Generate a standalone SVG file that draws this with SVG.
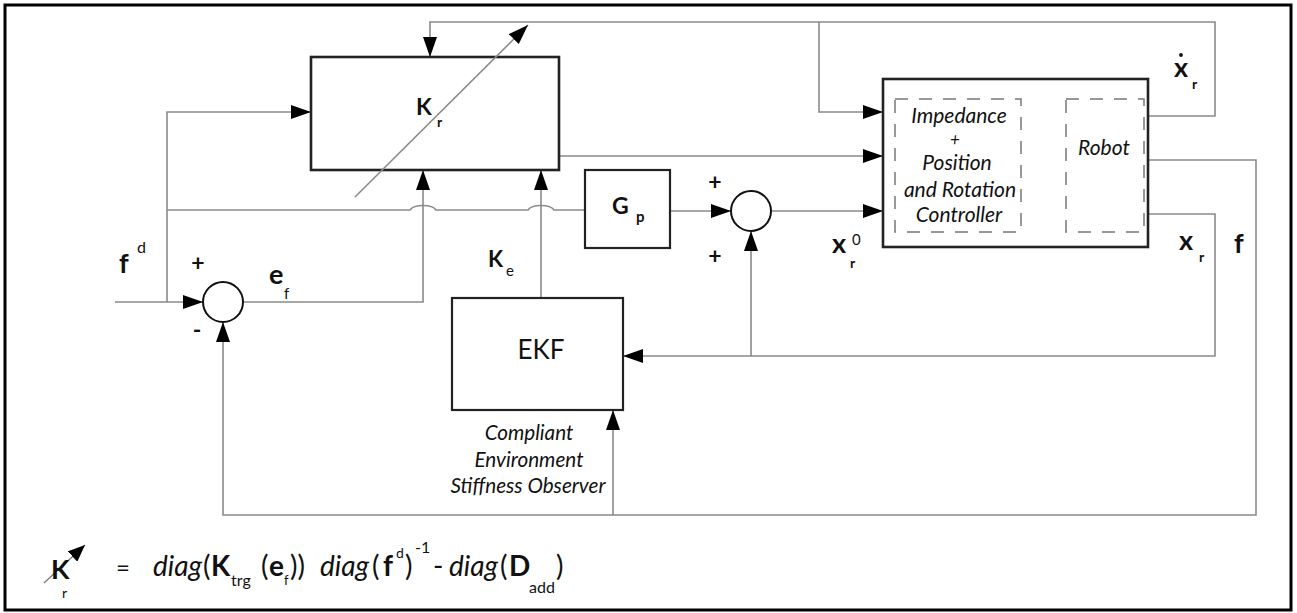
<svg xmlns="http://www.w3.org/2000/svg" width="1297" height="613" viewBox="0 0 1297 613">
<defs>
<marker id="ah" markerUnits="userSpaceOnUse" markerWidth="20" markerHeight="14" refX="20" refY="7" orient="auto"><path d="M0,0 L20,7 L0,14 z" fill="#000"/></marker>
<marker id="ahs" markerUnits="userSpaceOnUse" markerWidth="17" markerHeight="14" refX="17" refY="7" orient="auto"><path d="M0,0 L17,7 L0,14 z" fill="#000"/></marker>
<style>
.ln{fill:none;stroke:#8a8a8a;stroke-width:1.6}
.box{fill:#fff;stroke:#222;stroke-width:2.6}
.bx2{fill:#fff;stroke:#222;stroke-width:2.2}
.dash{fill:none;stroke:#777;stroke-width:1.5;stroke-dasharray:13 11}
.t{font-family:Lato,"Liberation Sans",sans-serif;fill:#111}
.b{font-weight:bold}
.i{font-style:italic}
</style>
</defs>
<rect x="0" y="0" width="1297" height="613" fill="#fff"/>
<rect x="5" y="5" width="1286" height="605" fill="none" stroke="#000" stroke-width="3"/>

<g id="connectors">
<path class="ln" d="M115,302 H203" marker-end="url(#ah)"/>
<path class="ln" d="M167,302 V112 H311" marker-end="url(#ah)"/>
<path class="ln" d="M167,210 H410 C414,204 432,204 436,210 H528 C532,204 550,204 554,210 H585"/>
<path class="ln" d="M243,302 H423 V170" marker-end="url(#ah)"/>
<path class="ln" d="M541,298 V170" marker-end="url(#ah)"/>
<path class="ln" d="M559,156 H883" marker-end="url(#ah)"/>
<path class="ln" d="M670,211 H731" marker-end="url(#ah)"/>
<path class="ln" d="M771,211 H883" marker-end="url(#ah)"/>
<path class="ln" d="M1148,116 H1215 V22 H430 V57" marker-end="url(#ah)"/>
<path class="ln" d="M819,22 V112 H883" marker-end="url(#ah)"/>
<path class="ln" d="M1148,160 H1256 V515 H223 V322" marker-end="url(#ah)"/>
<path class="ln" d="M613,515 V410" marker-end="url(#ah)"/>
<path class="ln" d="M1148,214 H1215 V356 H623" marker-end="url(#ah)"/>
<path class="ln" d="M751,356 V231" marker-end="url(#ah)"/>
<path class="dash" d="M1023,159 H1066" stroke-dasharray="18 6" marker-end="url(#ahs)"/>
</g>

<g id="node-Kr">
<rect class="box" x="311" y="57" width="248" height="113"/>
<text class="t b" x="416" y="115" font-size="23">K</text>
<text class="t b" x="437" y="127" font-size="14">r</text>
</g>
<path class="ln" d="M355,197 L528,25" marker-end="url(#ah)"/>

<g id="node-Gp">
<rect class="bx2" x="585" y="170" width="85" height="78"/>
<text class="t b" x="612" y="214" font-size="23">G</text>
<text class="t b" x="636" y="222" font-size="15">p</text>
</g>

<g id="node-sum1">
<circle cx="223" cy="302" r="20" fill="#fff" stroke="#111" stroke-width="2"/>
<text class="t b" x="198" y="271" font-size="23" text-anchor="middle">+</text>
<text class="t b" x="197" y="338" font-size="23" text-anchor="middle">-</text>
</g>

<g id="node-sum2">
<circle cx="751" cy="211" r="20" fill="#fff" stroke="#111" stroke-width="2"/>
<text class="t b" x="715" y="190" font-size="23" text-anchor="middle">+</text>
<text class="t b" x="715" y="264" font-size="23" text-anchor="middle">+</text>
</g>

<g id="node-EKF">
<rect class="bx2" x="452" y="298" width="171" height="112"/>
<text class="t" x="541" y="359" font-size="26" text-anchor="middle">EKF</text>
<text class="t i" x="529" y="440" font-size="20.7" text-anchor="middle">Compliant</text>
<text class="t i" x="529" y="467" font-size="20.7" text-anchor="middle">Environment</text>
<text class="t i" x="528" y="493" font-size="20.7" text-anchor="middle">Stiffness Observer</text>
</g>

<g id="node-controller">
<rect class="box" x="883" y="79" width="265" height="168"/>
<rect class="dash" x="895" y="99" width="126" height="133"/>
<rect class="dash" x="1066" y="99" width="78" height="133"/>
<text class="t i" x="959" y="123" font-size="21" text-anchor="middle">Impedance</text>
<text class="t i" x="955" y="145" font-size="17" text-anchor="middle">+</text>
<text class="t i" x="957" y="170" font-size="21" text-anchor="middle">Position</text>
<text class="t i" x="960" y="197" font-size="21" text-anchor="middle">and Rotation</text>
<text class="t i" x="959" y="222" font-size="21" text-anchor="middle">Controller</text>
<text class="t i" x="1104" y="155" font-size="21" text-anchor="middle">Robot</text>
</g>

<g id="labels">
<text class="t b" x="119" y="273" font-size="27">f</text>
<text class="t" x="137" y="253" font-size="16">d</text>
<text class="t b" x="269" y="284" font-size="27">e</text>
<text class="t" x="284" y="299" font-size="15">f</text>
<text class="t b" x="488" y="267" font-size="22">K</text>
<text class="t" x="506" y="276" font-size="15">e</text>
<text class="t b" x="832" y="253" font-size="27">x</text>
<text class="t" x="852" y="245" font-size="15">0</text>
<text class="t b" x="850" y="268" font-size="14">r</text>
<text class="t b" x="1174" y="77" font-size="27">x</text>
<circle cx="1181" cy="55" r="1.9" fill="#111"/>
<text class="t b" x="1192" y="89" font-size="14">r</text>
<text class="t b" x="1179" y="250" font-size="27">x</text>
<text class="t b" x="1199" y="262" font-size="14">r</text>
<text class="t b" x="1234" y="253" font-size="27">f</text>
</g>

<g id="formula">
<path d="M44,583 L85,545" stroke="#777" stroke-width="1.2" fill="none" marker-end="url(#ahs)"/>
<text class="t b" x="51" y="579" font-size="27">K</text>
<text class="t" x="62" y="598" font-size="14">r</text>
<text class="t" x="116" y="576" font-size="24">=</text>
<text class="t" y="576" font-size="28"><tspan class="i" x="153">diag</tspan><tspan x="203">(</tspan><tspan class="b" x="211">K</tspan><tspan x="261">(</tspan><tspan class="b" x="269">e</tspan><tspan x="290">))</tspan><tspan class="i" x="320">diag</tspan><tspan x="372">(</tspan><tspan class="b" x="383">f</tspan><tspan x="405">)</tspan><tspan x="433">-</tspan><tspan class="i" x="449">diag</tspan><tspan x="500">(</tspan><tspan class="b" x="509">D</tspan><tspan x="556">)</tspan></text>
<text class="t" x="231" y="586" font-size="16">trg</text>
<text class="t" x="284" y="585" font-size="13">f</text>
<text class="t" x="396" y="558" font-size="14">d</text>
<text class="t" x="415" y="553" font-size="16">-1</text>
<text class="t" x="529" y="593" font-size="16">add</text>
</g>
</svg>
